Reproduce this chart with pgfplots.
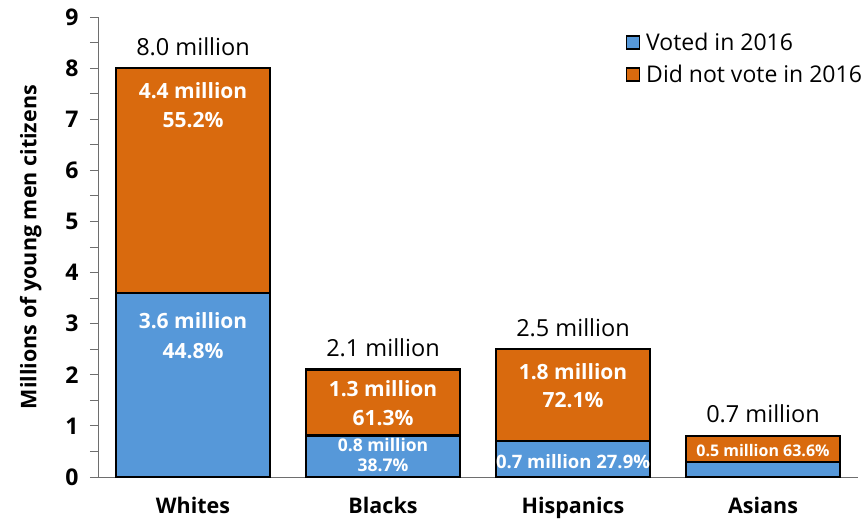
\documentclass[border=0pt]{standalone}
\usepackage{pgfplots}
\pgfplotsset{compat=1.18}
\usepackage{fontspec}
\setmainfont{Open Sans}
\definecolor{voted}{RGB}{86,152,217}
\definecolor{notvoted}{RGB}{217,106,14}
\definecolor{axisgray}{RGB}{110,110,110}

\begin{document}
\begin{tikzpicture}
  % fix the page to the reference's 865x520 frame
  \path[use as bounding box] (-98pt,-43pt) rectangle (767pt,477pt);
  \begin{axis}[
      scale only axis,
      width=760pt, height=460pt,
      ybar stacked,
      bar width=154pt,
      xmin=-0.5, xmax=3.5,
      ymin=0, ymax=9,
      xtick={0,1,2,3},
      xticklabels={Whites,Blacks,Hispanics,Asians},
      x tick style={draw=none},
      xticklabel style={font=\fontsize{21.5}{24}\selectfont\bfseries, yshift=-9pt},
      ytick={0,1,...,9},
      minor ytick={0.5,1.5,...,8.5},
      yticklabel style={font=\fontsize{23}{24}\selectfont\bfseries, xshift=-8pt},
      /pgf/number format/assume math mode=true,
      tick align=outside,
      major tick length=8pt, minor tick length=8pt,
      y tick style={axisgray, line width=0.8pt},
      minor y tick style={axisgray, line width=0.8pt},
      axis x line*=bottom, axis y line*=left,
      axis line style={axisgray, line width=0.8pt, -},
      ylabel={Millions of young men citizens},
      ylabel style={font=\fontsize{21.5}{24}\selectfont\bfseries, yshift=17pt},
      legend style={draw=none, fill=none, at={(1.012,0.975)}, anchor=north east,
        font=\fontsize{23}{26}\selectfont, row sep=9pt,
        legend cell align=left},
      legend image code/.code={\draw[#1, line width=1.8pt, draw=black] (0pt,-6.5pt) rectangle (13pt,6.5pt);},
      clip=false,
    ]
    \addplot[fill=voted, draw=black, line width=2.4pt] coordinates {(0,3.6) (1,0.81) (2,0.70) (3,0.29)};
    \addplot[fill=notvoted, draw=black, line width=2.4pt] coordinates {(0,4.4) (1,1.29) (2,1.80) (3,0.51)};
    \legend{\,Voted in 2016, \,Did not vote in 2016}

    % label anchors, written out after the axis so they sit on top of the bars
    \coordinate (t0) at (axis cs:0,8.41);
    \coordinate (t1) at (axis cs:1,2.52);
    \coordinate (t2) at (axis cs:2,2.92);
    \coordinate (t3) at (axis cs:3,1.23);
    \coordinate (a0) at (axis cs:0,7.55);
    \coordinate (b0) at (axis cs:0,6.99);
    \coordinate (c0) at (axis cs:0,3.05);
    \coordinate (d0) at (axis cs:0,2.47);
    \coordinate (a1) at (axis cs:1,1.72);
    \coordinate (b1) at (axis cs:1,1.15);
    \coordinate (c1) at (axis cs:1,0.63);
    \coordinate (d1) at (axis cs:1,0.23);
    \coordinate (a2) at (axis cs:2,2.07);
    \coordinate (b2) at (axis cs:2,1.51);
    \coordinate (c2) at (axis cs:2,0.31);
    \coordinate (a3) at (axis cs:3,0.51);
  \end{axis}
  \tikzset{tot/.style={font=\fontsize{23.5}{26}\selectfont, text=black},
           inb/.style={font=\fontsize{21}{24}\selectfont\bfseries, text=white}}
  \node[tot] at (t0) {8.0 million};
  \node[tot] at (t1) {2.1 million};
  \node[tot] at (t2) {2.5 million};
  \node[tot] at (t3) {0.7 million};
  \node[inb] at (a0) {4.4 million};
  \node[inb] at (b0) {55.2\%};
  \node[inb] at (c0) {3.6 million};
  \node[inb] at (d0) {44.8\%};
  \node[inb] at (a1) {1.3 million};
  \node[inb] at (b1) {61.3\%};
  \node[inb, font=\fontsize{17.5}{20}\selectfont\bfseries] at (c1) {0.8 million};
  \node[inb, font=\fontsize{17.5}{20}\selectfont\bfseries] at (d1) {38.7\%};
  \node[inb] at (a2) {1.8 million};
  \node[inb] at (b2) {72.1\%};
  \node[inb, font=\fontsize{18.5}{20}\selectfont\bfseries] at (c2) {0.7 million 27.9\%};
  \node[inb, font=\fontsize{16}{18}\selectfont\bfseries] at (a3) {0.5 million 63.6\%};
\end{tikzpicture}
\end{document}
